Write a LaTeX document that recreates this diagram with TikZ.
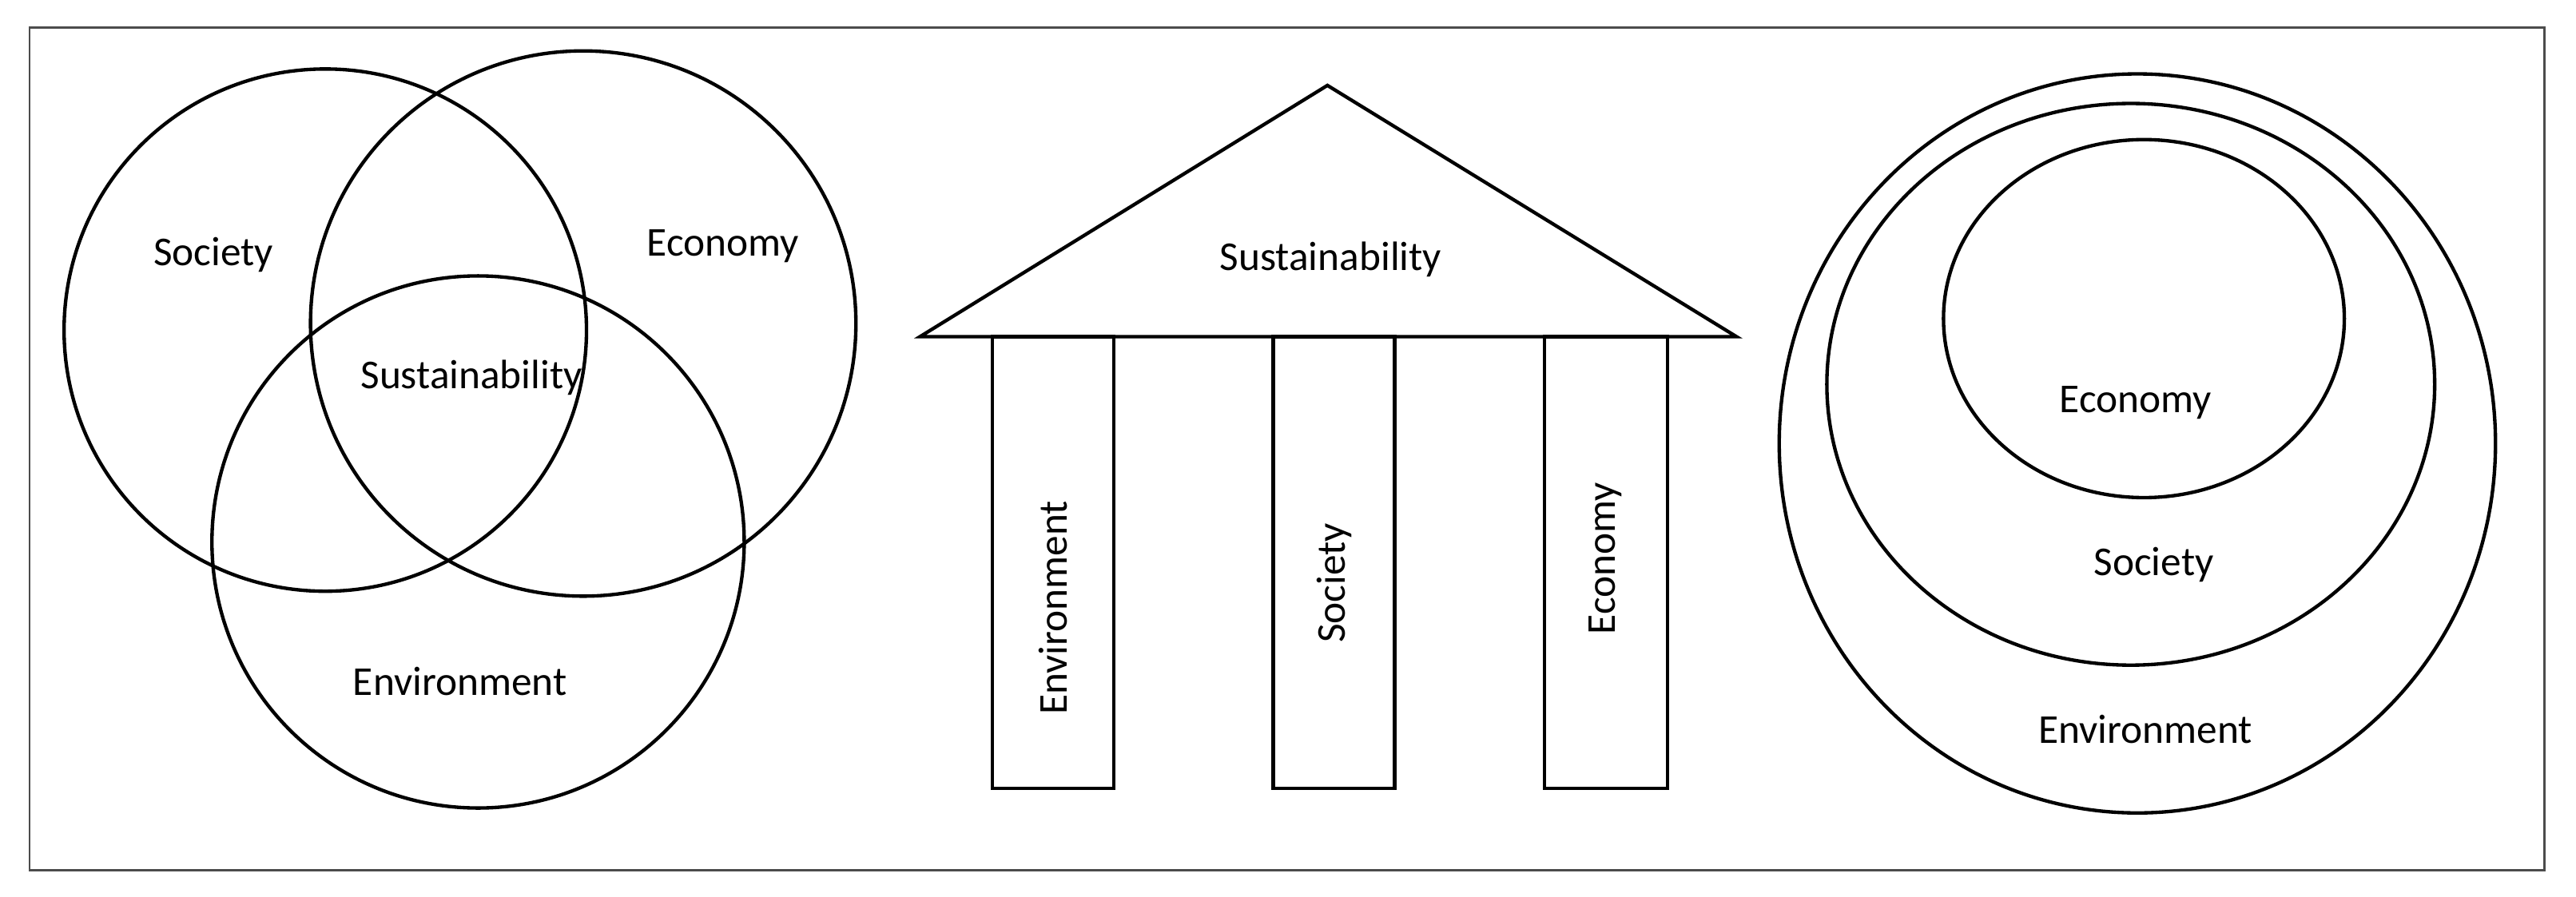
\documentclass[tikz,border=0pt]{standalone}
\usepackage{fontspec}
\setmainfont{Carlito}
\begin{document}
\begin{tikzpicture}[x=0.01cm,y=-0.01cm,line width=0.6pt,
  lbl/.style={font=\fontsize{7.1}{9}\selectfont,inner sep=0pt}]
\useasboundingbox (0,0) rectangle (1568,546);
\draw[line width=0.4pt,black!70] (18,17) rectangle (1549,530);
% Venn
\draw (198,201) circle[radius=159];
\draw (355,197) circle[radius=166];
\draw (291,330) circle[radius=162];
\node[lbl] (so) at (130,155) {Society};
\node[lbl] (ec) at (440,150) {Economy};
\node[lbl] (su) at (287,230) {Sustainability};
\node[lbl] (en) at (280,415) {Environment};
% Temple
\draw (560,205) -- (808,52) -- (1057,205) -- cycle;
\node[lbl] (tsu) at (810,158) {Sustainability};
\draw (604,205) rectangle (678,480);
\draw (775,205) rectangle (849,480);
\draw (940,205) rectangle (1015,480);
\node[lbl,rotate=90] (ten) at (641,370) {Environment};
\node[lbl,rotate=90] (tso) at (812,355) {Society};
\node[lbl,rotate=90] (tec) at (977,340) {Economy};
% Nested
\draw (1301,270) ellipse[x radius=218,y radius=225];
\draw (1297,234) ellipse[x radius=185,y radius=171];
\draw (1305,194) ellipse[x radius=122,y radius=109];
\node[lbl] (nec) at (1300,245) {Economy};
\node[lbl] (nso) at (1311,344) {Society};
\node[lbl] (nen) at (1306,444) {Environment};
\end{tikzpicture}
\end{document}
